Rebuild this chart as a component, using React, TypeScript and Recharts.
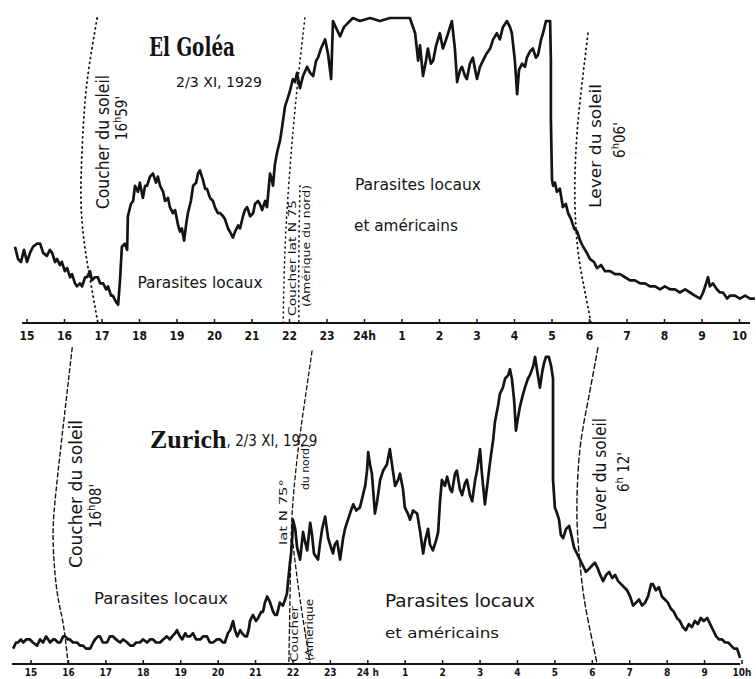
import React from "react";
import { LineChart, Line, XAxis, YAxis, ReferenceLine } from "recharts";

// ---- El Goléa, 2/3 XI 1929 : hours (15 → 34 = 10h next morning), intensity (0–100, 100 = saturation)
const goleaHours = [
  14.68, 14.76, 14.84, 14.92, 15.0, 15.08, 15.16, 15.27, 15.35, 15.43, 15.53, 15.61, 15.67, 15.75, 15.8, 15.88,
  15.93, 16.01, 16.07, 16.15, 16.2, 16.28, 16.33, 16.41, 16.47, 16.55, 16.6, 16.68, 16.73, 16.81, 16.89, 16.95,
  17.03, 17.11, 17.16, 17.24, 17.29, 17.37, 17.43, 17.48, 17.53, 17.61, 17.67, 17.69, 17.77, 17.83, 17.88, 17.96,
  18.01, 18.09, 18.15, 18.2, 18.28, 18.36, 18.44, 18.49, 18.55, 18.63, 18.68, 18.76, 18.81, 18.89, 18.95, 19.03,
  19.08, 19.13, 19.19, 19.24, 19.29, 19.37, 19.43, 19.51, 19.56, 19.61, 19.69, 19.75, 19.8, 19.88, 19.96, 20.01,
  20.09, 20.15, 20.23, 20.28, 20.36, 20.41, 20.49, 20.55, 20.63, 20.68, 20.76, 20.81, 20.87, 20.95, 21.03, 21.08,
  21.16, 21.21, 21.27, 21.35, 21.4, 21.48, 21.53, 21.56, 21.61, 21.67, 21.75, 21.8, 21.88, 21.96, 22.01, 22.09,
  22.15, 22.2, 22.28, 22.36, 22.47, 22.55, 22.63, 22.71, 22.76, 22.84, 22.95, 23.03, 23.11, 23.16, 23.27, 23.35,
  23.45, 23.53, 23.61, 23.69, 23.88, 24.15, 24.41, 24.68, 24.95, 25.21, 25.35, 25.43, 25.48, 25.56, 25.64, 25.69,
  25.77, 25.83, 25.91, 26.01, 26.09, 26.15, 26.23, 26.33, 26.41, 26.47, 26.55, 26.6, 26.68, 26.73, 26.81, 26.89,
  26.95, 27.0, 27.08, 27.16, 27.24, 27.35, 27.43, 27.53, 27.61, 27.69, 27.8, 27.88, 27.93, 28.01, 28.07, 28.12,
  28.2, 28.28, 28.33, 28.41, 28.49, 28.57, 28.63, 28.71, 28.76, 28.84, 28.89, 28.95, 28.97, 28.97, 29.0, 29.03,
  29.08, 29.13, 29.21, 29.29, 29.37, 29.43, 29.51, 29.59, 29.67, 29.75, 29.83, 29.93, 30.01, 30.12, 30.2, 30.31,
  30.41, 30.55, 30.68, 30.81, 30.95, 31.08, 31.21, 31.35, 31.48, 31.61, 31.75, 31.88, 32.01, 32.15, 32.28, 32.41,
  32.55, 32.68, 32.81, 32.95, 33.03, 33.11, 33.16, 33.21, 33.29, 33.4, 33.48, 33.56, 33.67, 33.75, 33.88, 34.01,
  34.15, 34.28, 34.41,
];
const goleaLevel = [
  25, 21, 20, 24, 20, 23, 25, 26, 26, 23, 22, 24, 23, 20, 21, 19,
  20, 17, 18, 15, 16, 13, 12, 13, 12, 15, 15, 17, 14, 15, 15, 13,
  13, 11, 12, 9, 9, 7, 6, 14, 25, 26, 24, 35, 39, 40, 45, 43,
  46, 41, 45, 45, 48, 49, 46, 48, 45, 43, 40, 41, 38, 36, 37, 32,
  30, 31, 27, 32, 36, 40, 45, 46, 49, 50, 47, 44, 44, 41, 40, 38,
  36, 36, 35, 34, 31, 30, 28, 30, 32, 31, 35, 37, 38, 35, 36, 39,
  40, 39, 37, 40, 38, 49, 47, 45, 52, 56, 60, 64, 71, 74, 76, 80,
  79, 82, 77, 81, 84, 82, 81, 86, 87, 90, 93, 88, 80, 99, 96, 94,
  97, 98, 99, 100, 99, 100, 99, 100, 100, 100, 95, 86, 91, 81, 86, 90,
  85, 86, 91, 95, 90, 92, 95, 99, 90, 79, 83, 84, 81, 80, 85, 87,
  83, 80, 84, 86, 88, 90, 93, 95, 93, 97, 99, 97, 95, 86, 75, 83,
  85, 84, 87, 89, 90, 87, 88, 93, 95, 99, 99, 99, 86, 67, 47, 45,
  46, 43, 44, 38, 39, 36, 34, 31, 30, 27, 25, 23, 21, 20, 18, 19,
  17, 17, 16, 16, 15, 14, 14, 13, 13, 12, 12, 11, 12, 11, 11, 10,
  11, 10, 9, 8, 10, 13, 15, 12, 13, 11, 10, 10, 8, 9, 9, 8,
  9, 8, 8,
];

// ---- Zurich, 2/3 XI 1929
const zurichHours = [
  14.52, 14.6, 14.65, 14.73, 14.79, 14.87, 14.97, 15.05, 15.16, 15.24, 15.32, 15.4, 15.51, 15.59, 15.64, 15.72,
  15.78, 15.86, 15.91, 15.99, 16.04, 16.12, 16.23, 16.31, 16.39, 16.47, 16.58, 16.66, 16.71, 16.79, 16.84, 16.92,
  17.03, 17.11, 17.19, 17.27, 17.38, 17.46, 17.57, 17.65, 17.73, 17.81, 17.91, 17.99, 18.1, 18.18, 18.26, 18.34,
  18.45, 18.53, 18.63, 18.71, 18.77, 18.85, 18.9, 18.98, 19.04, 19.12, 19.17, 19.25, 19.33, 19.41, 19.52, 19.6,
  19.7, 19.78, 19.86, 19.97, 20.05, 20.13, 20.18, 20.26, 20.32, 20.4, 20.45, 20.51, 20.59, 20.64, 20.72, 20.77,
  20.83, 20.85, 20.93, 21.01, 21.07, 21.15, 21.2, 21.25, 21.31, 21.39, 21.47, 21.52, 21.57, 21.65, 21.73, 21.79,
  21.84, 21.87, 21.92, 21.95, 21.98, 22.0, 22.06, 22.11, 22.19, 22.27, 22.32, 22.38, 22.46, 22.51, 22.56, 22.67,
  22.72, 22.78, 22.86, 22.94, 22.99, 23.07, 23.12, 23.18, 23.26, 23.34, 23.39, 23.47, 23.55, 23.61, 23.69, 23.79,
  23.87, 23.93, 23.98, 24.01, 24.06, 24.11, 24.19, 24.25, 24.33, 24.41, 24.51, 24.59, 24.67, 24.73, 24.81, 24.86,
  24.94, 24.99, 25.07, 25.13, 25.21, 25.32, 25.4, 25.48, 25.53, 25.61, 25.66, 25.74, 25.82, 25.88, 25.93, 25.98,
  26.06, 26.12, 26.2, 26.25, 26.33, 26.38, 26.46, 26.52, 26.6, 26.65, 26.73, 26.79, 26.87, 26.92, 27.0, 27.05,
  27.13, 27.21, 27.27, 27.35, 27.4, 27.48, 27.53, 27.61, 27.67, 27.75, 27.8, 27.85, 27.91, 27.96, 28.01, 28.07,
  28.15, 28.2, 28.28, 28.33, 28.42, 28.47, 28.52, 28.6, 28.66, 28.71, 28.76, 28.84, 28.9, 28.95, 28.95, 28.95,
  29.0, 29.06, 29.11, 29.16, 29.22, 29.3, 29.38, 29.44, 29.51, 29.59, 29.67, 29.75, 29.83, 29.91, 29.99, 30.07,
  30.15, 30.21, 30.29, 30.37, 30.45, 30.53, 30.61, 30.69, 30.77, 30.85, 30.93, 31.01, 31.09, 31.17, 31.25, 31.33,
  31.41, 31.49, 31.57, 31.62, 31.7, 31.78, 31.86, 31.94, 32.02, 32.1, 32.18, 32.26, 32.34, 32.42, 32.5, 32.58,
  32.66, 32.74, 32.82, 32.9, 32.98, 33.07, 33.15, 33.23, 33.31, 33.39, 33.47, 33.55, 33.63, 33.71, 33.79, 33.87,
  33.95,
];
const zurichLevel = [
  5, 7, 7, 8, 7, 8, 8, 7, 6, 8, 7, 9, 7, 8, 8, 7,
  7, 9, 9, 8, 8, 7, 7, 6, 6, 5, 5, 7, 8, 9, 9, 7,
  7, 9, 9, 8, 7, 8, 7, 6, 6, 7, 7, 8, 7, 8, 8, 7,
  7, 8, 9, 8, 9, 10, 11, 9, 8, 10, 9, 9, 10, 8, 8, 9,
  9, 7, 7, 8, 8, 7, 7, 10, 11, 14, 11, 9, 11, 10, 9, 9,
  12, 14, 16, 14, 15, 17, 17, 20, 22, 20, 17, 16, 16, 20, 19, 21,
  23, 27, 33, 36, 41, 47, 44, 38, 34, 43, 40, 37, 46, 42, 36, 34,
  39, 44, 48, 41, 39, 36, 39, 40, 34, 41, 44, 47, 50, 52, 50, 51,
  55, 58, 63, 69, 65, 62, 49, 53, 60, 63, 65, 70, 63, 58, 60, 62,
  57, 51, 49, 47, 50, 49, 43, 36, 40, 44, 39, 37, 40, 43, 53, 60,
  58, 61, 57, 56, 62, 63, 57, 55, 59, 60, 55, 53, 60, 63, 70, 62,
  52, 60, 66, 73, 79, 84, 88, 90, 93, 94, 96, 93, 86, 76, 80, 84,
  88, 90, 93, 94, 97, 100, 96, 90, 95, 98, 100, 100, 97, 93, 76, 60,
  51, 49, 47, 42, 41, 44, 45, 42, 38, 36, 34, 32, 30, 31, 32, 33,
  31, 29, 27, 29, 30, 28, 29, 27, 26, 25, 24, 22, 19, 20, 21, 19,
  20, 22, 26, 26, 24, 25, 22, 21, 20, 18, 17, 15, 14, 12, 11, 13,
  12, 14, 13, 15, 14, 15, 13, 11, 9, 8, 8, 7, 7, 6, 5, 5,
  2,
];

// ---- guide curves (sunset / sunrise), as [hour, level] pairs
const goleaSunset: [number, number][] = [
  [16.87, 100], [16.68, 86], [16.55, 73], [16.47, 57], [16.44, 40], [16.52, 27], [16.63, 18], [16.76, 9], [16.89, 0],
];
const goleaAmericaSunset: [number, number][] = [
  [22.41, 100], [22.17, 73], [21.99, 47], [21.88, 24], [21.83, 0],
];
const goleaAmericaSunset2: [number, number][] = [
  [22.28, 45], [22.25, 22], [22.25, 0],
];
const goleaSunrise: [number, number][] = [
  [29.96, 95], [29.75, 73], [29.64, 57], [29.61, 40], [29.69, 24], [29.85, 12], [30.04, 0],
];
const zurichSunset: [number, number][] = [
  [16.1, 103], [15.94, 86], [15.78, 69], [15.64, 53], [15.59, 40], [15.69, 24], [15.86, 13], [15.99, 0],
];
const zurichAmericaSunset: [number, number][] = [
  [22.51, 102], [22.32, 86], [22.14, 70], [22.0, 53], [21.95, 40], [21.92, 21], [21.89, 0],
];
const zurichAmericaSunset2: [number, number][] = [
  [22.0, 39], [22.19, 21], [22.46, 0],
];
const zurichSunrise: [number, number][] = [
  [30.15, 103], [29.89, 86], [29.67, 70], [29.59, 53], [29.62, 40], [29.75, 24], [29.94, 11], [30.13, 0],
];

// ---- axis ticks
const tickHours = [15, 16, 17, 18, 19, 20, 21, 22, 23, 24, 25, 26, 27, 28, 29, 30, 31, 32, 33, 34];
const goleaTickLabels = ["15", "16", "17", "18", "19", "20", "21", "22", "23", "24h", "1", "2", "3", "4", "5", "6", "7", "8", "9", "10"];
const zurichTickLabels = ["15", "16", "17", "18", "19", "20", "21", "22", "23", "24 h", "1", "2", "3", "4", "5", "6", "7", "8", "9", "10h"];

const INK = "#141414";
const HAND = "'DejaVu Sans Condensed', 'Liberation Sans Narrow', sans-serif";

const rows = (h: number[], v: number[]) => h.map((t, i) => ({ t, v: v[i] }));
const pairs = (p: [number, number][]) => p.map(([t, v]) => ({ t, v }));

const makeTick = (labels: string[], dy: number, size: number) => (props: any) => {
  const { x, y, payload } = props;
  const idx = tickHours.indexOf(payload.value);
  return (
    <g>
      <line x1={x} x2={x} y1={y} y2={y - 4} stroke={INK} strokeWidth={1.5} />
      <text x={x} y={y + dy} textAnchor="middle" fontSize={size} fontFamily={HAND} fontWeight="bold" fill={INK}>
        {labels[idx]}
      </text>
    </g>
  );
};

const RotText = ({ x, y, size, children, len }: any) => (
  <text
    transform={`translate(${x},${y}) rotate(-90)`}
    textAnchor="middle"
    dominantBaseline="central"
    fontSize={size}
    fontFamily={HAND}
    fill={INK}
    textLength={len}
    lengthAdjust="spacingAndGlyphs"
  >
    {children}
  </text>
);

const Txt = ({ x, y, size, children, len, weight, family, anchor }: any) => (
  <text
    x={x}
    y={y}
    textAnchor={anchor || "middle"}
    dominantBaseline="central"
    fontSize={size}
    fontFamily={family || HAND}
    fontWeight={weight || "normal"}
    fill={INK}
    textLength={len}
    lengthAdjust="spacingAndGlyphs"
  >
    {children}
  </text>
);

const guide = (data: [number, number][], dash: string, key: string, w = 1.6) => (
  <Line
    key={key}
    data={pairs(data)}
    dataKey="v"
    type="natural"
    stroke={INK}
    strokeWidth={w}
    strokeDasharray={dash}
    strokeLinecap="round"
    dot={false}
    activeDot={false}
    isAnimationActive={false}
  />
);

export default function App() {
  return (
    <div style={{ position: "absolute", left: 0, top: 0, width: 756, height: 679, background: "#fff", overflow: "hidden" }}>
      <div style={{ position: "absolute", left: 0, top: 0 }}>
        <LineChart width={756} height={345} data={rows(goleaHours, goleaLevel)} margin={{ top: 18, right: 0, bottom: 0, left: 0 }}>
          <XAxis
            type="number"
            dataKey="t"
            domain={[14.28, 34.44]}
            ticks={tickHours}
            interval={0}
            axisLine={false}
            tickLine={false}
            tickSize={0}
            tickMargin={0}
            height={22}
            tick={makeTick(goleaTickLabels, 17, 12)}
          />
          <YAxis type="number" domain={[0, 100]} hide />
          <ReferenceLine segment={[{ x: 14.87, y: 0 }, { x: 34.28, y: 0 }]} stroke={INK} strokeWidth={2} />
          {guide(goleaSunset, "1 4", "g1", 1.8)}
          {guide(goleaAmericaSunset, "1 4", "g2", 1.6)}
          {guide(goleaAmericaSunset2, "1 4", "g3", 1.6)}
          {guide(goleaSunrise, "1 4", "g4", 1.8)}
          <Line
            dataKey="v"
            type="linear"
            stroke={INK}
            strokeWidth={2.7}
            strokeLinejoin="round"
            dot={false}
            activeDot={false}
            isAnimationActive={false}
          />
        </LineChart>
      </div>
      <div style={{ position: "absolute", left: 0, top: 345 }}>
        <LineChart width={756} height={334} data={rows(zurichHours, zurichLevel)} margin={{ top: 0, right: 0, bottom: 0, left: 0 }}>
          <XAxis
            type="number"
            dataKey="t"
            domain={[14.17, 34.375]}
            ticks={tickHours}
            interval={0}
            axisLine={false}
            tickLine={false}
            tickSize={0}
            tickMargin={0}
            height={15}
            tick={makeTick(zurichTickLabels, 12, 10)}
          />
          <YAxis type="number" domain={[0, 103.9]} hide />
          <ReferenceLine segment={[{ x: 14.49, y: 0 }, { x: 33.95, y: 0 }]} stroke={INK} strokeWidth={2} />
          {guide(zurichSunset, "4 3", "z1", 1.4)}
          {guide(zurichAmericaSunset, "4 3", "z2", 1.3)}
          {guide(zurichAmericaSunset2, "4 3", "z3", 1.3)}
          {guide(zurichSunrise, "5 3", "z4", 1.4)}
          <Line
            dataKey="v"
            type="linear"
            stroke={INK}
            strokeWidth={2.7}
            strokeLinejoin="round"
            dot={false}
            activeDot={false}
            isAnimationActive={false}
          />
        </LineChart>
      </div>
      <svg width={756} height={679} style={{ position: "absolute", left: 0, top: 0, pointerEvents: "none" }}>
        {/* El Goléa panel */}
        <Txt x={192} y={47} size={26} len={86} weight="bold" family="'DejaVu Serif Condensed', serif">El Goléa</Txt>
        <Txt x={219} y={82} size={14} len={86}>2/3 XI, 1929</Txt>
        <RotText x={103} y={142} size={17} len={134}>Coucher du soleil</RotText>
        <text transform="translate(122,118) rotate(-90)" textAnchor="middle" dominantBaseline="central" fontSize={15} fontFamily={HAND} fill={INK}>
          16<tspan fontSize={11} dy={-5}>h</tspan><tspan dy={5}>59'</tspan>
        </text>
        <Txt x={200} y={283} size={15} len={125}>Parasites locaux</Txt>
        <RotText x={292} y={258} size={11} len={116}>Coucher lat N 75</RotText>
        <RotText x={306} y={246} size={10} len={122}>(Amérique du nord)</RotText>
        <Txt x={418} y={184} size={16} len={126}>Parasites locaux</Txt>
        <Txt x={406} y={226} size={15} len={104}>et américains</Txt>
        <RotText x={595} y={146} size={16} len={124}>Lever du soleil</RotText>
        <text transform="translate(620,140) rotate(-90)" textAnchor="middle" dominantBaseline="central" fontSize={15} fontFamily={HAND} fill={INK}>
          6<tspan fontSize={11} dy={-5}>h</tspan><tspan dy={5}>06'</tspan>
        </text>
        {/* Zurich panel */}
        <text x={150} y={439} dominantBaseline="central" fill={INK}>
          <tspan fontSize={26} fontWeight="bold" fontFamily="'Liberation Serif', serif">Zurich</tspan>
          <tspan fontSize={15} fontFamily={HAND} dy={2}>, 2/3  XI, 1929</tspan>
        </text>
        <RotText x={76} y={494} size={17} len={148}>Coucher du soleil</RotText>
        <text transform="translate(96,506) rotate(-90)" textAnchor="middle" dominantBaseline="central" fontSize={15} fontFamily={HAND} fill={INK}>
          16<tspan fontSize={11} dy={-5}>h</tspan><tspan dy={5}>08'</tspan>
        </text>
        <Txt x={161} y={598} size={16} len={134}>Parasites locaux</Txt>
        <RotText x={283} y={512} size={11} len={66}>lat N 75°</RotText>
        <RotText x={305} y={467} size={11} len={46}>du nord)</RotText>
        <RotText x={294} y={634} size={11} len={56}>Coucher</RotText>
        <RotText x={309} y={630} size={10} len={62}>(Amérique</RotText>
        <Txt x={460} y={600} size={18} len={150}>Parasites locaux</Txt>
        <Txt x={442} y={633} size={14} len={114}>et américains</Txt>
        <RotText x={600} y={474} size={17} len={112}>Lever du soleil</RotText>
        <text transform="translate(624,472) rotate(-90)" textAnchor="middle" dominantBaseline="central" fontSize={15} fontFamily={HAND} fill={INK}>
          6<tspan fontSize={11} dy={-5}>h</tspan><tspan dy={5}> 12'</tspan>
        </text>
      </svg>
    </div>
  );
}
